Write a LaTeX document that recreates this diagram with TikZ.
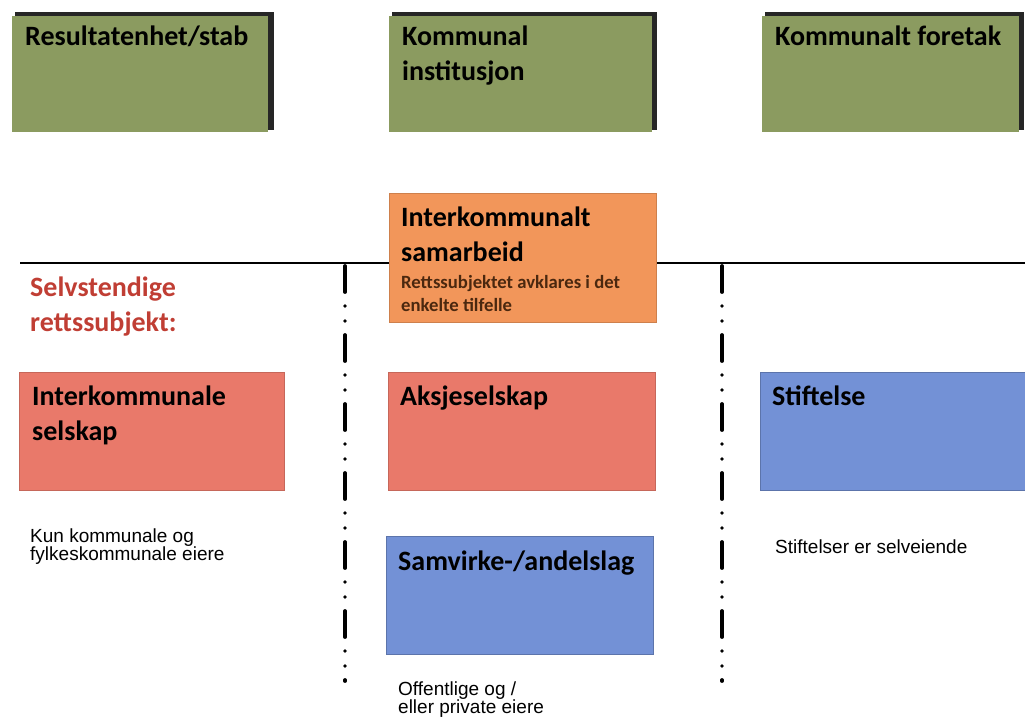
\documentclass[tikz,border=0pt]{standalone}
\usepackage{fontspec}
\setmainfont{Carlito}
\newfontfamily\annfont{Liberation Sans}
\definecolor{boxgreen}{RGB}{139,155,96}
\definecolor{boxorange}{RGB}{242,150,90}
\definecolor{boxred}{RGB}{233,121,106}
\definecolor{boxblue}{RGB}{115,145,214}
\definecolor{redtext}{RGB}{192,62,52}
\definecolor{browntext}{RGB}{75,40,15}
\tikzset{
  gbox/.style={fill=boxgreen, draw=none},
  gshadow/.style={fill=black!85},
  obox/.style={fill=boxorange, draw=boxorange!85!black, line width=0.8pt},
  rbox/.style={fill=boxred, draw=boxred!85!black, line width=0.8pt},
  bbox/.style={fill=boxblue, draw=boxblue!80!black, line width=0.8pt},
  head/.style={anchor=base west, inner sep=0pt, font=\fontsize{28}{35}\selectfont\bfseries, align=left},
  small/.style={anchor=base west, inner sep=0pt, font=\fontsize{18.7}{23}\selectfont\bfseries, text=browntext, align=left},
  ann/.style={anchor=base west, inner sep=0pt, font=\annfont\fontsize{19}{18}\selectfont, align=left},
  sepline/.style={line width=3.8pt, line cap=round, dash pattern=on 26pt off 14pt on 0pt off 15pt on 0pt off 14pt},
}
\begin{document}
\begin{tikzpicture}[x=1pt,y=-1pt]
\useasboundingbox (0,0) rectangle (1025,718);
% green boxes with shadow
\fill[gshadow] (15,12) rectangle (274,130);
\fill[gbox] (12,16) rectangle (268,132);
\fill[gshadow] (392,12) rectangle (657,130);
\fill[gbox] (389,16) rectangle (652,132);
\fill[gshadow] (765,12) rectangle (1024,130);
\fill[gbox] (762,16) rectangle (1019,132);
\node[head] (t1) at (25,45) {Resultatenhet/stab};
\node[head] (t2) at (402,80) {Kommunal\\institusjon};
\node[head] (t3) at (775,45) {Kommunalt foretak};
% horizontal line
\coordinate (hl) at (20,263);
\coordinate (hr) at (1025,263);
\draw[line width=1.6pt] (hl) -- (hr);
% orange box
\node[obox, minimum width=267pt, minimum height=129pt, anchor=north west, inner sep=0pt] (ob) at (389,193) {};
\node[head] (o1) at (401,261) {Interkommunalt\\samarbeid};
\node[small] (o2) at (401,311) {Rettssubjektet avklares i det\\enkelte tilfelle};
% separators
\coordinate (s1a) at (345,266);
\coordinate (s1b) at (345,681);
\coordinate (s2a) at (722,266);
\coordinate (s2b) at (722,681);
\draw[sepline] (s1a) -- (s1b);
\draw[sepline] (s2a) -- (s2b);
% red title
\node[head, text=redtext] (sr) at (30,331) {Selvstendige\\rettssubjekt:};
% boxes
\node[rbox, minimum width=265pt, minimum height=118pt, anchor=north west, inner sep=0pt] (b1) at (19,372) {};
\node[head] at (32,440) {Interkommunale\\selskap};
\node[rbox, minimum width=267pt, minimum height=118pt, anchor=north west, inner sep=0pt] (b2) at (388,372) {};
\node[head] at (400,405) {Aksjeselskap};
\node[bbox, minimum width=266pt, minimum height=118pt, anchor=north west, inner sep=0pt] (b3) at (760,372) {};
\node[head] at (772,405) {Stiftelse};
\node[bbox, minimum width=267pt, minimum height=118pt, anchor=north west, inner sep=0pt] (b4) at (386,536) {};
\node[head] at (398,570) {Samvirke-/andelslag};
% annotations
\node[ann] (a1) at (30,560) {Kun kommunale og\\fylkeskommunale eiere};
\node[ann] (a2) at (775,553) {Stiftelser er selveiende};
\node[ann] (a3) at (398,713) {Offentlige og /\\eller private eiere};
\end{tikzpicture}
\end{document}
